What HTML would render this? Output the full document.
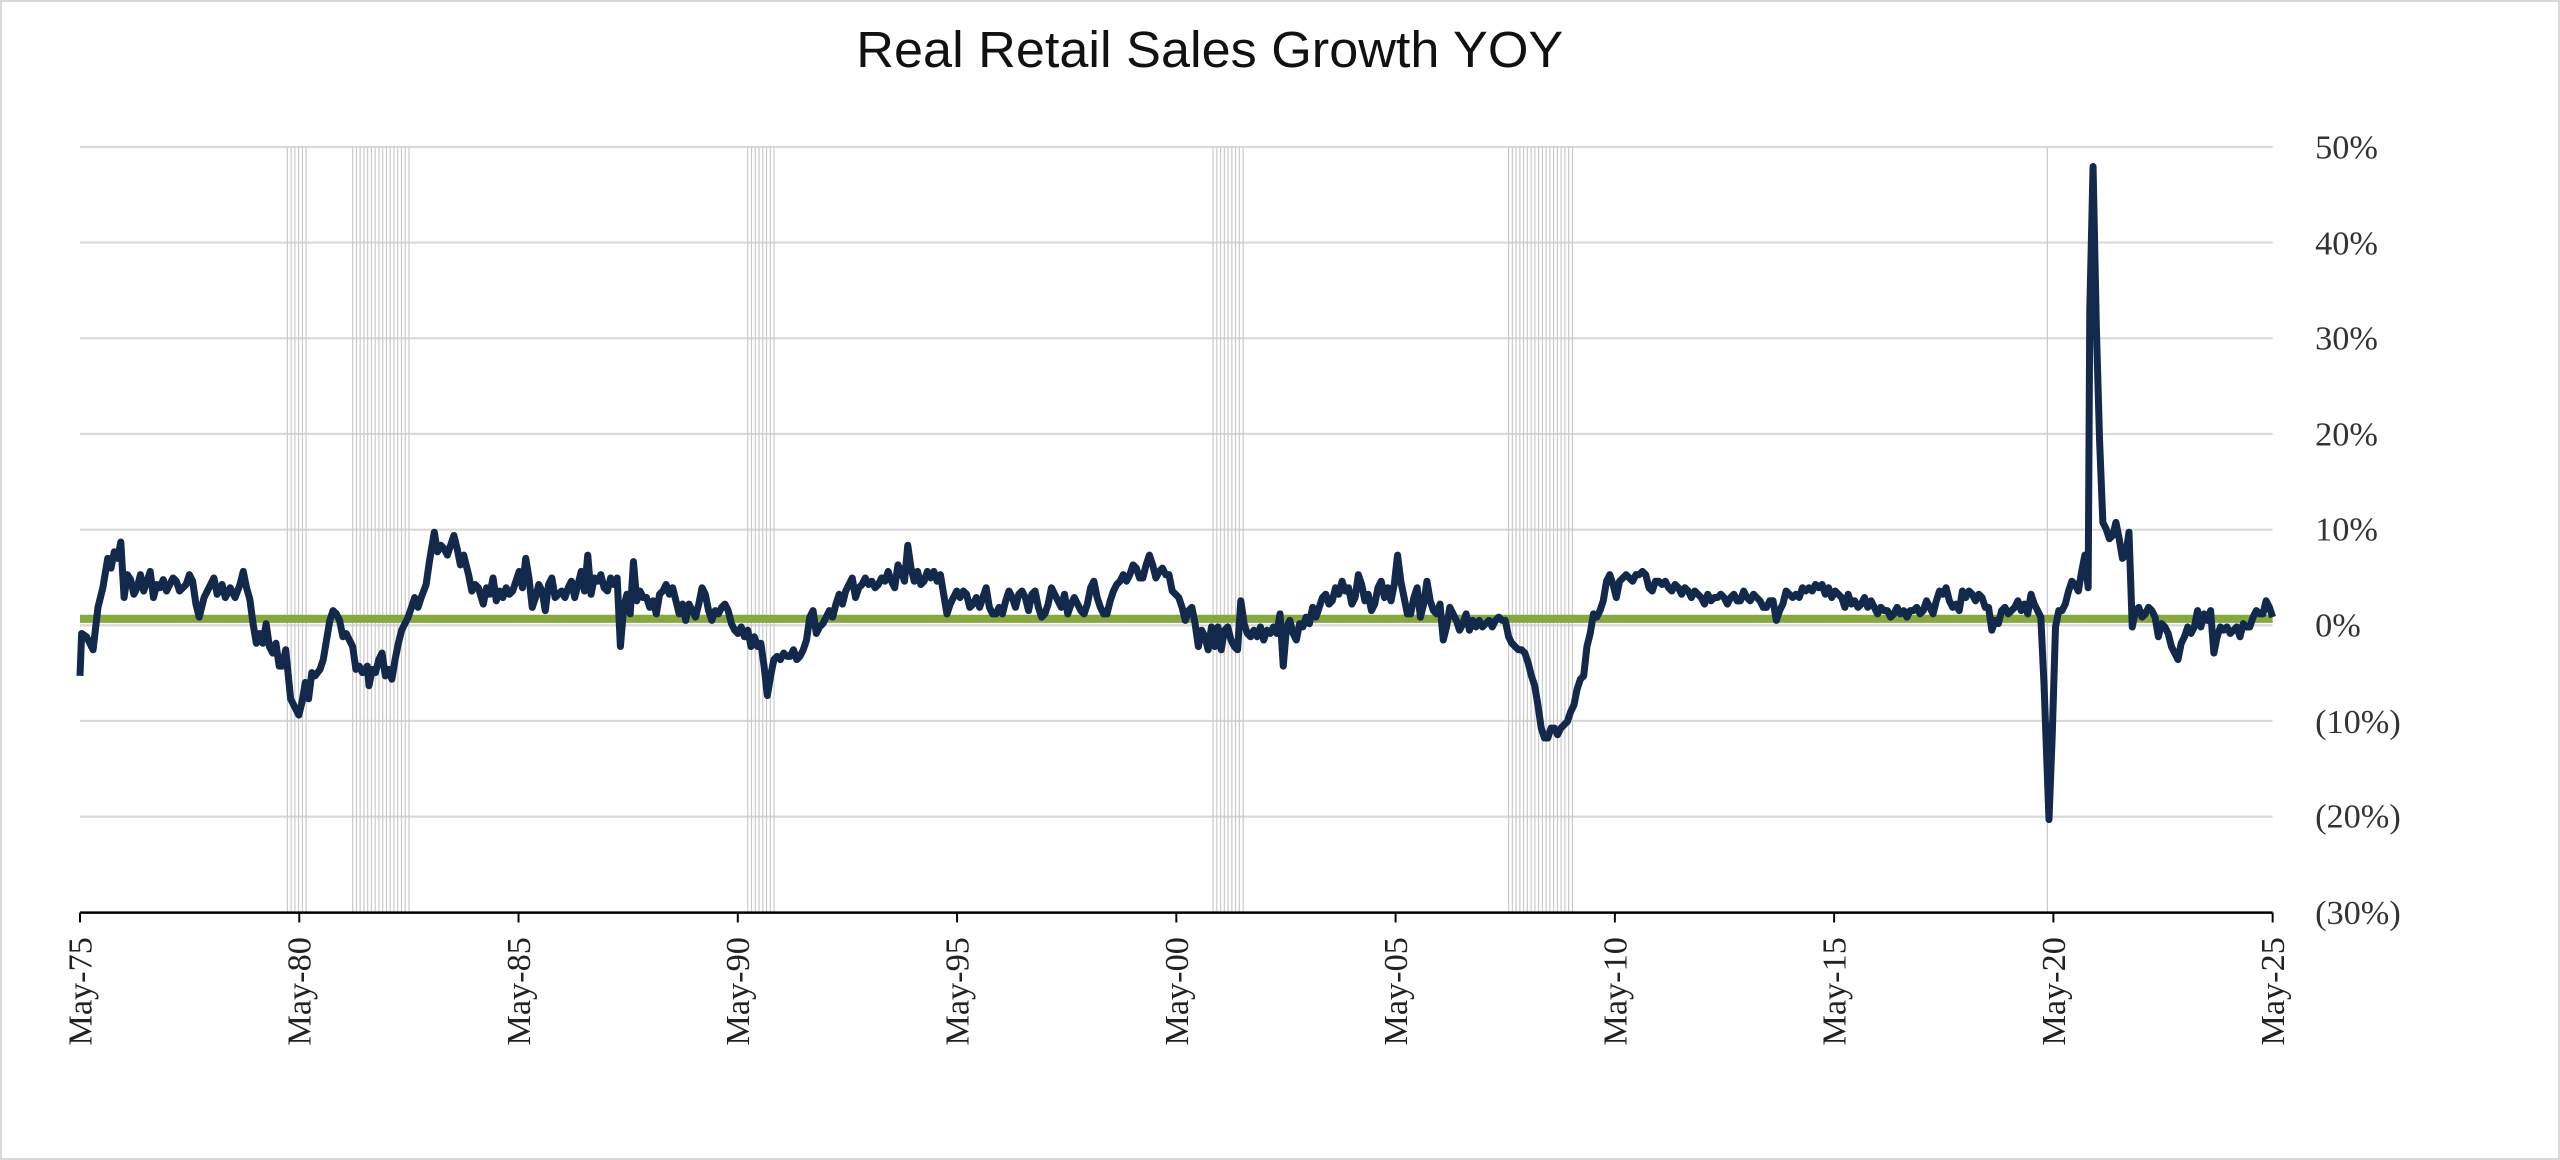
<!DOCTYPE html>
<html><head><meta charset="utf-8"><style>html,body{margin:0;padding:0;background:#fff}svg{display:block}</style></head>
<body>
<svg width="2560" height="1160" viewBox="0 0 1568 710.5" preserveAspectRatio="none" xmlns="http://www.w3.org/2000/svg">
<rect x="0.5" y="0.5" width="1567" height="709.5" fill="#fff" stroke="#d8d8d8" stroke-width="1.5"/>
<text x="741" y="41" text-anchor="middle" font-family="Liberation Sans, sans-serif" font-size="31" fill="#111" textLength="433" lengthAdjust="spacingAndGlyphs">Real Retail Sales Growth YOY</text>
<g stroke="#d9d9d9" stroke-width="1.3">
<line x1="49" x2="1392" y1="90" y2="90"/><line x1="49" x2="1392" y1="148.6" y2="148.6"/><line x1="49" x2="1392" y1="207.2" y2="207.2"/><line x1="49" x2="1392" y1="265.8" y2="265.8"/><line x1="49" x2="1392" y1="324.4" y2="324.4"/><line x1="49" x2="1392" y1="383" y2="383"/><line x1="49" x2="1392" y1="441.6" y2="441.6"/><line x1="49" x2="1392" y1="500.2" y2="500.2"/>
</g>
<g id="rec" stroke="#c8c8c8" stroke-width="0.7"></g>
<line x1="49" x2="1392" y1="559" y2="559" stroke="#000" stroke-width="1.5"/>
<g id="ticks" stroke="#000" stroke-width="1.2"></g>
<line x1="49" x2="1392" y1="379" y2="379" stroke="#87a83f" stroke-width="5"/>
<polyline id="ln" fill="none" stroke="#13294b" stroke-width="4.3" stroke-linejoin="round" points="49,414 50,388 53,390 57,398 60,372 63,360 66,342 68,348 70,338 72,342 74,332 76,366 78,352 80,355 82,364 84,360 86,352 88,362 90,356 92,350 94,366 96,358 98,360 100,355 102,362 104,358 106,354 108,356 110,362 114,358 116,352 118,356 120,370 122,378 125,366 128,360 131,354 133,364 136,358 138,366 141,360 144,366 147,358 149,350 151,360 153,367 155,382 157,394 159,388 161,394 163,382 165,396 167,400 169,394 171,408 173,408 175,398 178,428 181,434 183,438 185,430 187,418 189,428 191,412 193,414 196,410 198,404 200,392 202,380 204,374 206,376 208,380 210,390 212,388 214,392 216,396 218,410 220,408 222,412 225,408 226,420 228,410 230,412 232,404 234,400 236,414 238,410 240,416 242,404 244,394 246,386 248,382 250,378 252,372 254,366 256,372 258,366 261,358 263,344 266,326 268,338 270,334 272,336 274,340 276,334 278,328 280,336 282,346 284,340 287,352 289,362 291,358 293,360 296,370 298,360 300,364 302,354 304,368 306,362 308,366 310,360 312,364 314,362 316,356 318,350 320,360 322,342 324,354 326,372 328,366 330,358 332,362 334,374 336,358 338,354 340,366 342,364 344,362 346,366 348,360 350,356 352,366 354,358 356,350 358,362 360,340 362,364 364,354 366,356 368,352 370,360 372,362 374,354 376,358 378,354 380,396 382,372 384,364 386,376 388,344 390,368 392,362 394,366 396,366 398,372 400,368 402,376 404,364 406,362 408,358 410,364 412,360 414,368 416,376 418,370 420,380 422,370 424,374 426,378 428,370 430,360 432,364 434,374 436,380 438,374 440,376 442,372 444,370 446,374 448,382 450,386 452,388 454,384 456,390 458,386 460,396 462,390 464,396 466,394 468,408 470,426 472,414 474,404 476,402 478,404 480,400 482,402 484,402 486,398 488,404 490,402 492,398 494,392 496,378 498,374 500,388 502,384 504,382 506,378 508,374 510,378 512,370 514,364 516,370 518,362 520,358 522,354 524,366 526,360 528,358 530,354 532,358 534,356 536,360 538,358 540,354 542,356 544,350 546,356 548,360 550,346 552,350 554,356 556,334 558,348 560,356 562,350 564,358 566,356 568,350 570,354 572,350 574,356 576,352 578,364 580,376 582,370 584,366 586,362 588,366 590,362 592,364 594,372 596,370 598,366 600,372 602,366 604,360 606,372 608,376 610,376 612,372 614,376 616,368 618,362 620,366 622,372 624,364 626,362 628,366 630,374 632,364 634,362 636,372 638,378 640,376 642,370 644,360 646,364 648,368 650,372 652,364 654,376 656,370 658,366 660,370 662,374 664,376 666,370 668,360 670,356 672,366 674,372 676,376 678,376 680,368 682,362 684,358 686,356 688,352 690,356 692,352 694,346 696,348 698,354 700,354 702,346 704,340 706,346 708,354 710,350 712,348 714,352 716,352 718,362 720,364 722,366 724,372 726,380 728,374 730,372 732,382 734,396 736,386 738,390 740,398 742,384 744,396 746,384 748,398 750,386 752,384 754,392 756,396 758,398 760,368 762,382 764,388 766,390 768,386 770,390 772,384 774,392 776,386 778,388 780,384 782,388 784,376 786,408 788,384 790,380 792,388 794,392 796,382 798,384 800,378 802,382 804,372 806,378 808,372 810,366 812,364 814,370 816,368 818,360 820,364 822,356 824,362 826,360 828,370 830,366 832,352 834,358 836,368 838,364 840,374 842,370 844,360 846,356 848,366 850,360 852,368 854,358 856,340 858,356 860,366 862,376 864,376 866,366 868,360 870,378 872,370 874,356 876,368 878,374 880,376 882,370 884,392 886,384 888,372 890,376 892,380 894,386 896,382 898,376 900,386 902,380 904,384 906,380 908,384 910,382 912,380 914,384 916,380 918,378 920,380 922,380 924,390 926,394 928,396 930,398 932,398 934,400 936,406 938,414 940,420 942,432 944,446 946,452 948,452 950,446 952,446 954,450 956,446 958,444 960,442 962,436 964,432 966,422 968,416 970,414 972,396 974,388 976,376 978,378 980,374 982,368 984,356 986,352 988,358 990,366 992,356 994,354 996,352 998,354 1000,356 1002,352 1004,352 1006,350 1008,352 1010,360 1012,362 1014,356 1016,356 1018,358 1020,356 1022,360 1024,362 1026,358 1028,360 1030,364 1032,360 1034,362 1036,366 1038,362 1040,364 1042,366 1044,370 1046,364 1048,368 1050,366 1052,366 1054,364 1056,366 1058,370 1060,366 1062,364 1064,368 1066,368 1068,362 1070,366 1072,368 1074,364 1076,366 1078,368 1080,372 1082,372 1084,368 1086,368 1088,380 1090,374 1092,370 1094,362 1096,364 1098,366 1100,364 1102,366 1104,360 1106,362 1108,360 1110,362 1112,358 1114,360 1116,358 1118,364 1120,360 1122,366 1124,362 1126,364 1128,366 1130,372 1132,364 1134,370 1136,368 1138,372 1140,370 1142,366 1144,372 1146,368 1148,372 1150,376 1152,372 1154,374 1156,374 1158,378 1160,376 1162,372 1164,376 1166,374 1168,378 1170,374 1172,374 1174,372 1176,376 1178,374 1180,368 1182,372 1184,376 1186,368 1188,362 1190,364 1192,360 1194,368 1196,372 1198,370 1200,374 1202,362 1204,366 1206,362 1208,364 1210,368 1212,364 1214,366 1216,372 1218,372 1220,386 1222,380 1224,382 1226,374 1228,372 1230,376 1232,374 1234,372 1236,368 1238,374 1240,370 1242,376 1244,364 1246,370 1248,374 1250,378 1252,420 1255,502 1257,450 1259,384 1261,374 1263,374 1265,370 1267,362 1269,356 1271,358 1273,362 1275,350 1277,340 1279,360 1280,190 1282,102 1284,200 1286,270 1288,320 1290,324 1292,330 1294,328 1296,320 1298,330 1300,342 1302,340 1304,326 1306,384 1308,374 1310,372 1312,378 1314,376 1316,372 1318,374 1320,378 1322,390 1324,382 1326,384 1328,388 1330,396 1332,400 1334,404 1336,394 1338,390 1340,384 1342,388 1344,384 1346,374 1348,384 1350,376 1352,380 1354,374 1356,400 1358,390 1360,384 1362,386 1364,384 1366,388 1368,386 1370,384 1372,390 1374,382 1376,384 1378,384 1380,378 1382,374 1384,376 1386,376 1388,368 1390,372 1392,378"/>
<g font-family="Liberation Serif, serif" font-size="21" fill="#333">
<text x="1418" y="97">50%</text><text x="1418" y="156">40%</text><text x="1418" y="214">30%</text><text x="1418" y="273">20%</text><text x="1418" y="331">10%</text><text x="1418" y="390">0%</text><text x="1418" y="449">(10%)</text><text x="1418" y="507">(20%)</text><text x="1418" y="566">(30%)</text>
</g>
<g id="xl" font-family="Liberation Serif, serif" font-size="21" fill="#222"></g>
<script>
(function(){
var ns="http://www.w3.org/2000/svg";
var rec=document.getElementById("rec");
[[176,189],[216,252],[458,476],[743,762],[924,965],[1254,1256]].forEach(function(r){
 for(var x=r[0];x<=r[1];x+=2.3){var l=document.createElementNS(ns,"line");l.setAttribute("x1",x);l.setAttribute("x2",x);l.setAttribute("y1",90);l.setAttribute("y2",559);rec.appendChild(l);}
});
var labs=["75","80","85","90","95","00","05","10","15","20","25"];
var tk=document.getElementById("ticks"),xl=document.getElementById("xl");
labs.forEach(function(s,i){
 var x=49+i*134.3;
 var l=document.createElementNS(ns,"line");l.setAttribute("x1",x);l.setAttribute("x2",x);l.setAttribute("y1",559);l.setAttribute("y2",565);tk.appendChild(l);
 var t=document.createElementNS(ns,"text");t.setAttribute("transform","translate("+(x+7)+",574) rotate(-90)");t.setAttribute("text-anchor","end");t.textContent="May-"+s;xl.appendChild(t);
});
})();
</script>
</svg>
</body></html>
